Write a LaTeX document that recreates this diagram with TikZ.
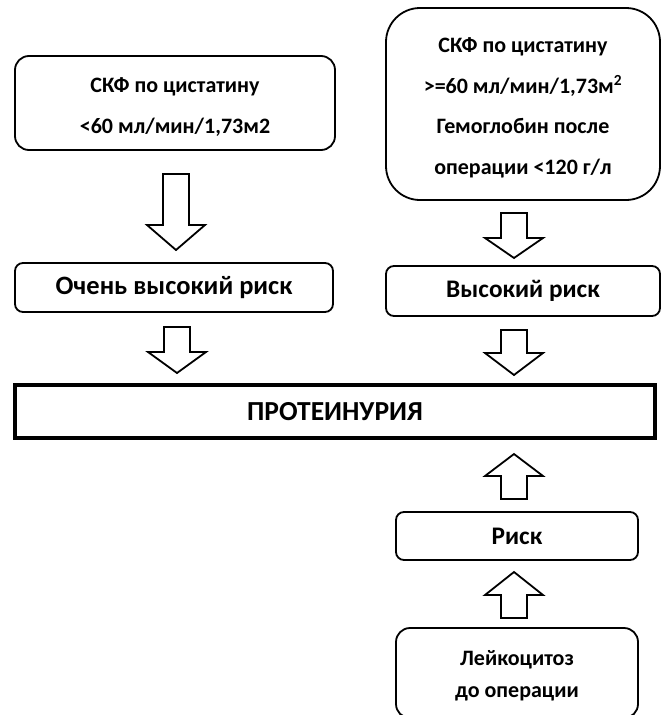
\documentclass[tikz,border=0pt]{standalone}
\usepackage{fontspec}
\setmainfont{Carlito}
\begin{document}
\begin{tikzpicture}[x=1pt,y=-1pt,
  box/.style={draw=black, line width=1.8pt, fill=white, align=center,
    inner sep=0pt, font=\bfseries\fontsize{22}{40.5}\selectfont},
  txt/.style={align=center, inner sep=0pt, font=\bfseries\fontsize{22}{40.5}\selectfont},
  riskfont/.style={font=\bfseries\fontsize{25.3}{28}\selectfont},
  blk/.style={draw=black, line width=1.8pt, fill=white, line join=miter}]
\useasboundingbox (0,0) rectangle (662,715);

% upper row: frames, then their text
\node[box, rounded corners=14pt, minimum width=320pt, minimum height=94pt]
  (b1) at (175,103) {};
\node[txt] (b1t) at ([yshift=-4pt]b1.center) {СКФ по цистатину\\<60 мл/мин/1,73м2};
\node[box, rounded corners=34pt, minimum width=274pt, minimum height=192pt]
  (b2) at (523,104) {};
\node[txt] (b2t) at ([yshift=-4pt]b2.center)
  {СКФ по цистатину\\>=60 мл/мин/1,73м\textsuperscript{2}\\Гемоглобин после\\операции <120 г/л};

% risk level
\node[box, riskfont, font=\bfseries\fontsize{26.5}{30}\selectfont, rounded corners=8pt,
  minimum width=318pt, minimum height=49pt] (r1) at (174,287.5) {Очень высокий риск};
\node[box, riskfont, rounded corners=8pt, minimum width=274pt, minimum height=50pt]
  (r2) at (523,291) {Высокий риск};

% outcome
\node[box, line width=3.8pt, minimum width=640pt, minimum height=53pt,
  font=\bfseries\fontsize{27.5}{30}\selectfont] (p) at (335,411.5) {ПРОТЕИНУРИЯ};

% lower right column
\node[box, riskfont, rounded corners=8pt, minimum width=242pt, minimum height=48pt]
  (rk) at (517,536) {Риск};
\node[box, rounded corners=14pt, minimum width=242pt, minimum height=90pt]
  (lk) at (517,673) {};
\node[txt, font=\bfseries\fontsize{22}{32}\selectfont] (lkt) at ([yshift=-3pt]lk.center)
  {Лейкоцитоз\\до операции};

% block arrows: centre x, tail y, head base y, tip y
\newcommand\blkarrow[4]{%
  \draw[blk] (#1-13,#2) -- (#1+13,#2) -- (#1+13,#3) -- (#1+29,#3)
    -- (#1,#4) -- (#1-29,#3) -- (#1-13,#3) -- cycle;}
\blkarrow{176}{174}{225}{250}
\blkarrow{514}{213}{238}{258}
\blkarrow{177}{327}{352}{373}
\blkarrow{514}{330}{353}{375}
\blkarrow{514}{499}{476}{454}
\blkarrow{514}{618}{595}{572}
\end{tikzpicture}
\end{document}
